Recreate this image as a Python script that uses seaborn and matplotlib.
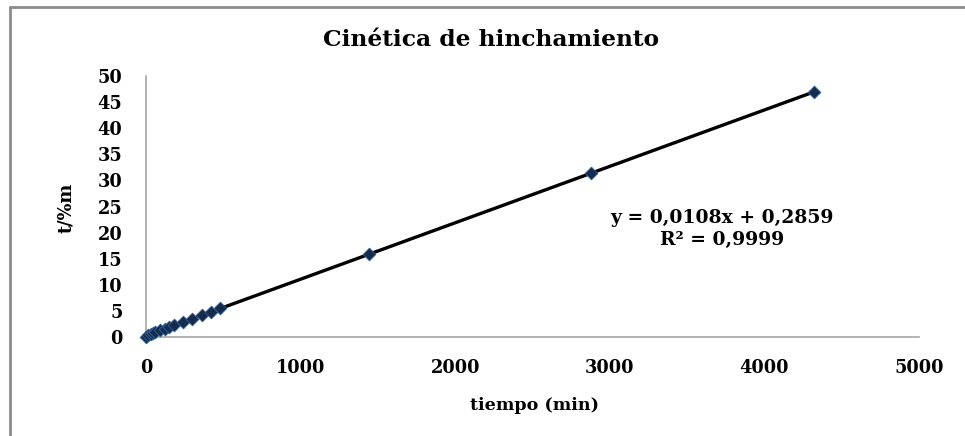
import numpy as np
import pandas as pd
import matplotlib
matplotlib.use("Agg")
import matplotlib.pyplot as plt
import seaborn as sns
from matplotlib.lines import Line2D

# Data
tiempo = [0, 15, 30, 45, 60, 90, 120, 150, 180, 240, 300, 360, 420, 480, 1440, 2880, 4320]
t_m = [0.0, 0.45, 0.62, 0.78, 0.94, 1.26, 1.59, 1.90, 2.22, 2.86, 3.53, 4.17, 4.83, 5.46, 15.86, 31.38, 46.94]
x_ticks = [0, 1000, 2000, 3000, 4000, 5000]
y_ticks = [0, 5, 10, 15, 20, 25, 30, 35, 40, 45, 50]
title = "Cinética de hinchamiento"
xlabel = "tiempo (min)"
ylabel = "t/%m"
eq_text = "y = 0,0108x + 0,2859\nR² = 0,9999"

df = pd.DataFrame({"tiempo": tiempo, "tm": t_m})

sns.set_theme(style="white")
plt.rcParams['font.family'] = ['DejaVu Serif', 'Liberation Serif']
plt.rcParams['text.color'] = 'black'
plt.rcParams['xtick.color'] = 'black'
plt.rcParams['ytick.color'] = 'black'

fig = plt.figure(figsize=(9.65, 4.36), dpi=100)
ax = fig.add_axes([146/965, 1-337/436, (919-146)/965, (337-76)/436])

# trendline from least squares fit of the data
slope, intercept = np.polyfit(df["tiempo"], df["tm"], 1)
xfit = np.array([df["tiempo"].min(), df["tiempo"].max()])
fit_df = pd.DataFrame({"x": xfit, "y": slope * xfit + intercept})
sns.lineplot(data=fit_df, x="x", y="y", ax=ax, color="black", linewidth=2.4, zorder=2)
sns.scatterplot(data=df, x="tiempo", y="tm", ax=ax, marker="D", s=42,
                color="#172c4d", edgecolor="#2d5f9a", linewidth=0.6, zorder=3)

ax.set_xlim(0, 5000)
ax.set_ylim(0, 50)
ax.set_xticks(x_ticks)
ax.set_yticks(y_ticks)
ax.set_xticklabels([str(v) for v in x_ticks], fontsize=12.8, fontweight="bold", color="black")
ax.set_yticklabels([str(v) for v in y_ticks], fontsize=12.8, fontweight="bold", color="black")
ax.tick_params(axis="x", pad=15.5, length=0)
ax.tick_params(axis="y", pad=17, length=0)
ax.set_xlabel("")
ax.set_ylabel("")
for s in ["top", "right"]:
    ax.spines[s].set_visible(False)
for s in ["left", "bottom"]:
    ax.spines[s].set_color("#a6a6a6")
    ax.spines[s].set_linewidth(1.2)
ax.grid(False)
for c in ax.collections:
    c.set_clip_on(False)

fig.text(491/965, 1-40/436, title, ha="center", va="center", fontsize=16.8, fontweight="bold", color="black")
fig.text(535/965, 1-405/436, xlabel, ha="center", va="center", fontsize=12.6, fontweight="bold", color="black")
fig.text(66/965, 1-208/436, ylabel, ha="center", va="center", fontsize=12.8, fontweight="bold", rotation=90, color="black")
fig.text(722/965, 1-229/436, eq_text, ha="center", va="center", fontsize=13.5, fontweight="bold",
         linespacing=1.3, color="black")

# outer frame
fig.add_artist(Line2D([10/965, 10/965], [0, 1-7/436], transform=fig.transFigure, color="#8c8c8c", linewidth=2))
fig.add_artist(Line2D([10/965, 1], [1-7/436, 1-7/436], transform=fig.transFigure, color="#8c8c8c", linewidth=2))

fig.savefig("out.png", dpi=100)
